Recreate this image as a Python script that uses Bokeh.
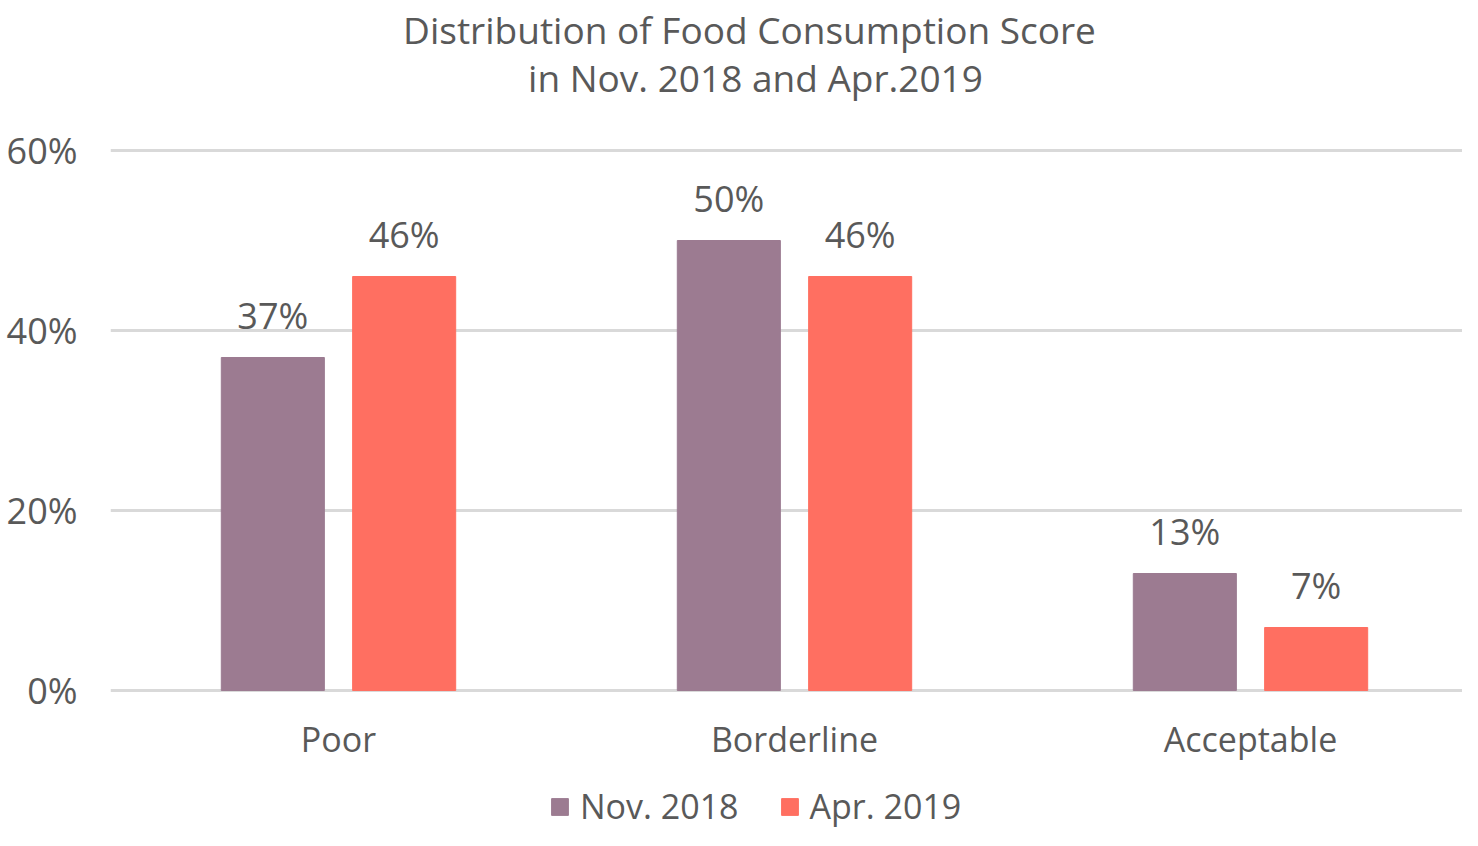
from bokeh.plotting import figure
from bokeh.models import (Range1d, ColumnDataSource, FixedTicker, PrintfTickFormatter,
                          Label, Legend, LegendItem)
from bokeh.core.properties import value
from bokeh.embed import file_html
from bokeh.resources import INLINE

categories = ["Poor", "Borderline", "Acceptable"]
nov_2018 = [37, 50, 13]
apr_2019 = [46, 46, 7]
series_names = ["Nov. 2018", "Apr. 2019"]
y_ticks = [0, 20, 40, 60]
title_lines = ["Distribution of Food Consumption Score", "in Nov. 2018 and Apr.2019"]

FONT = "Open Sans"
TXT = "#595959"
C_NOV = "#9C7B91"
C_APR = "#FF6F61"
OFF = 0.144
BW = 0.226

W, H = 1462, 830
LEFT = 110
PX_PER_CAT = 456.0
PX_PER_PCT = 9.0
ZERO_Y = 690  # pixel row of the 0% line

pos = [i + 0.5 for i in range(len(categories))]
src = ColumnDataSource(dict(
    xn=[x - OFF for x in pos],
    xa=[x + OFF for x in pos],
    nov=nov_2018,
    apr=apr_2019,
    nov_lbl=[f"{v}%" for v in nov_2018],
    apr_lbl=[f"{v}%" for v in apr_2019],
))
cat_src = ColumnDataSource(dict(x=pos, y=[0] * len(pos), t=categories))

p = figure(x_range=Range1d(0, (W - LEFT) / PX_PER_CAT),
           y_range=Range1d(-(H - ZERO_Y) / PX_PER_PCT, ZERO_Y / PX_PER_PCT),
           width=W, height=H, output_backend="svg", toolbar_location=None,
           min_border_left=LEFT, min_border_right=0, min_border_top=0, min_border_bottom=0)
p.title.visible = False
p.outline_line_color = None
p.xaxis.visible = False

r1 = p.vbar(x="xn", top="nov", width=BW, source=src, fill_color=C_NOV, line_color=C_NOV)
r2 = p.vbar(x="xa", top="apr", width=BW, source=src, fill_color=C_APR, line_color=C_APR)

for xcol, ycol, tcol in (("xn", "nov", "nov_lbl"), ("xa", "apr", "apr_lbl")):
    p.text(x=xcol, y=ycol, text=tcol, source=src,
           text_align="center", text_baseline="alphabetic", y_offset=-42,
           text_font=value(FONT), text_font_size="36px", text_color=TXT)

# category labels under the bars
p.text(x="x", y="y", text="t", source=cat_src, text_align="center",
       text_baseline="alphabetic", y_offset=48,
       text_font=value(FONT), text_font_size="34px", text_color=TXT)

# two-line title (screen units from the frame's bottom-left)
p.add_layout(Label(x=749 - LEFT, y=H - 29, x_units="screen", y_units="screen",
                   text=title_lines[0], text_align="center", text_baseline="alphabetic",
                   text_font=FONT, text_font_size="37px", text_color=TXT))
p.add_layout(Label(x=755 - LEFT, y=H - 77, x_units="screen", y_units="screen",
                   text=title_lines[1], text_align="center", text_baseline="alphabetic",
                   text_font=FONT, text_font_size="37px", text_color=TXT))

# y axis
p.yaxis.ticker = FixedTicker(ticks=y_ticks)
p.yaxis.formatter = PrintfTickFormatter(format="%d%%")
p.yaxis.axis_line_color = None
p.yaxis.major_tick_line_color = None
p.yaxis.minor_tick_line_color = None
p.yaxis.major_label_standoff = 27
p.yaxis.major_label_text_font = FONT
p.yaxis.major_label_text_font_size = "36px"
p.yaxis.major_label_text_color = TXT

p.xgrid.grid_line_color = None
p.ygrid.ticker = FixedTicker(ticks=y_ticks)
p.ygrid.grid_line_color = "#D9D9D9"
p.ygrid.grid_line_width = 3

legend = Legend(items=[LegendItem(label=series_names[0], renderers=[r1]),
                       LegendItem(label=series_names[1], renderers=[r2])],
                orientation="horizontal", location=(549 - LEFT, 1),
                label_text_font=FONT, label_text_font_size="34px", label_text_color=TXT,
                glyph_width=21, glyph_height=21, spacing=40, label_standoff=10,
                border_line_color=None, background_fill_alpha=0, margin=0, padding=0)
p.add_layout(legend, "center")

open("out.html", "w").write(file_html(p, INLINE))
